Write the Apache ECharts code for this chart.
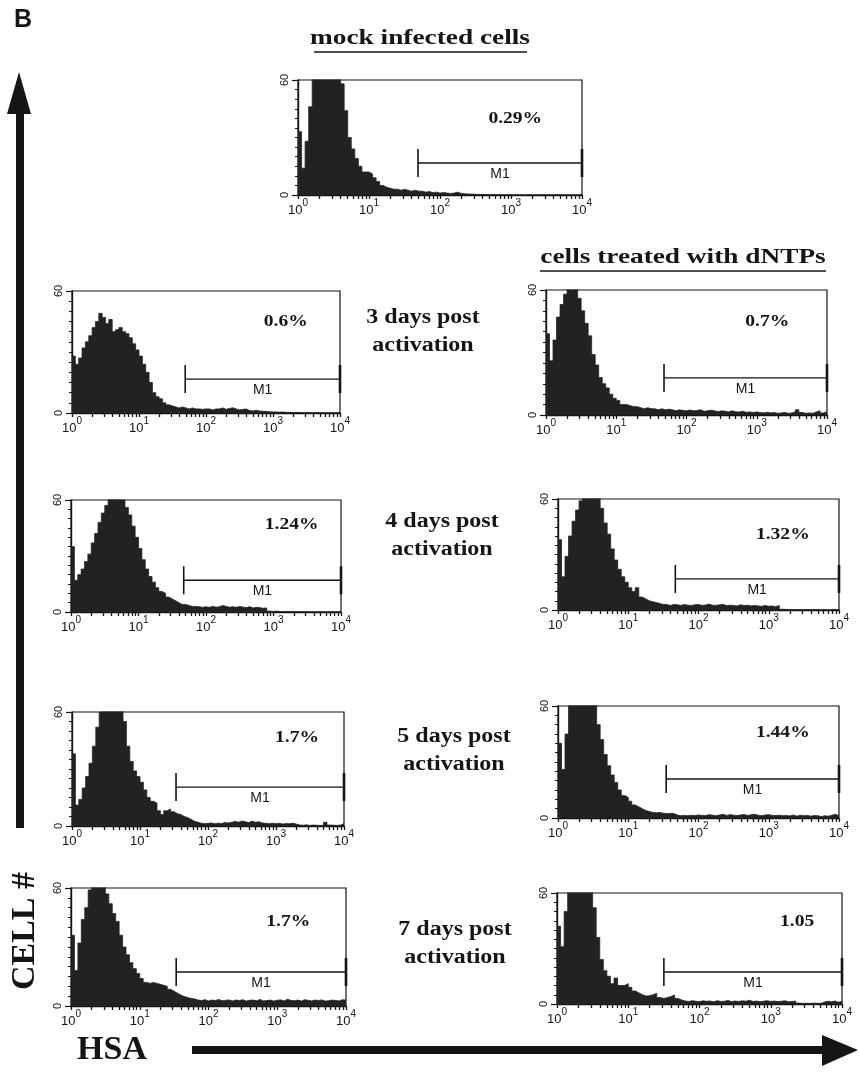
<!DOCTYPE html>
<html>
<head>
<meta charset="utf-8">
<script src="https://cdn.jsdelivr.net/npm/echarts@6/dist/echarts.min.js"></script>
<style>
html, body { margin: 0; padding: 0; background: #fff; }
#chart { width: 859px; height: 1074px; }
</style>
</head>
<body>
<div id="chart"></div>
<script>
// channels are 0.05 log10 units wide, 80 channels over 10^0 .. 10^4
var binWidth = 0.05;
var decades = [0, 1, 2, 3, 4];

var mock = [33,14,28,46,62,75,80,85,82,78,
  72,66,58,44,30,24,19,15,12,12,
  11,9,7,5,4,3.5,3,3,2.5,3,
  2.5,2,2.5,2,2,1.5,1.8,1.2,1.5,1,
  1.3,1,0.8,1,1.5,0.8,0.6,0.5,0.5,0.3,
  0.3,0.2,0.3,0.1,0.2,0.1,0.1,0,0.1,0,
  0,0.1,0,0,0.1,0,0,0,0.1,0,
  0,0,0.1,0,0,0,0,0,0.1,0.3];
var day3 = [28,24,27,32,35,38,42,45,49,47,
  44,46,40,41,42,40,39,37,34,31,
  28,24,20,15,10,8,7,5,4,3.5,
  3,2.5,3,2.5,2,2.5,2,2,1.8,2,
  2,1.5,2,2,2.5,1.8,2.2,2.6,2,1.5,
  1.8,2,1.2,1,1.3,1,0.8,0.8,0.6,0.5,
  0.5,0.4,0.5,0.3,0.3,0.2,0.3,0.2,0.1,0.2,
  0.1,0.1,0.2,0,0.1,0,0.1,0,0.1,0.3];
var day3dNTP = [39,26,36,47,53,58,62,60,61,56,
  50,44,38,29,24,18,15,13,10,8,
  7,5,5,4.5,4,4,3.5,3,3.5,3,
  3,2.5,3,2.5,2.8,2.5,2,2.5,2.2,2,
  2.4,2,2.2,2.5,1.8,2,2.3,2,1.6,2,
  1.8,1.5,2,1.6,1.4,1.8,1.3,1.5,1.2,1.5,
  1.2,1,1.3,1,1.2,0.8,1,1.2,0.8,1,
  1.5,2.5,1.2,0.8,1,0.8,1.5,2,1,1.5];
var day4 = [35,17,20,23,27,31,37,42,48,53,
  57,61,63,62,64,60,56,52,46,40,
  34,28,23,19,16,13,11,10,8,7,
  6,5,4,4,3.5,3,3,2.8,2.5,2.8,
  2.5,3,2.6,2.8,3.5,3,2.6,2.8,2.5,3,
  2.6,2.4,2.8,2.2,2.5,2.3,2,2.2,0.5,0.3,
  0.5,0.2,0.3,0.2,0.2,0.1,0.2,0.1,0.2,0.1,
  0,0.1,0,0.1,0,0,0.1,0,0.1,0.2];
var day4dNTP = [38,18,29,40,48,54,59,63,65,64,
  66,62,55,47,41,33,27,22,18,15,
  12,10,12,7,6,5,4.5,4,3.5,3,
  3,2.5,3,2.8,2.5,3,2.6,2.4,2.8,3,
  2.5,2.7,3.2,2.6,2.5,2.8,3,2.4,2.6,2.5,
  2.2,2.8,2.4,2.6,2.2,2.5,2.2,2,2.4,2,
  2.2,1.8,2.4,0.4,0.3,0.2,0.3,0.1,0.2,0.1,
  0.1,0.2,0,0.1,0,0.1,0,0.1,0.2,0.3];
var day5 = [38,11,14,20,26,33,42,52,60,64,
  66,63,65,61,62,55,42,34,29,26,
  23,19,15,13,12,8,6,8,9,7.5,
  6.5,6,5,4.5,3.5,2.5,2,1.5,1.2,1.4,
  1.6,1.2,1.5,1.3,1.8,1.6,2,2.4,2,2.6,
  2.2,1.8,2.5,2,2.2,1.6,1.4,1.2,1.5,1.2,
  1.4,1,1.3,1.2,1.4,1,0.5,0.4,0.6,0.3,
  0.5,0.4,0.3,0.4,2,0.5,0.4,0.3,0.5,1.2];
var day5dNTP = [40,26,45,62,70,75,78,76,72,70,
  66,50,42,34,28,23,19,15,12,11,
  9,7,6,5,4,3.5,3,2.8,3,2.6,
  2.3,2.5,2.4,1.6,1.2,1.4,1.2,1.5,1.3,1.6,
  1.4,1.3,1.8,1.5,1.2,1.6,2,1.4,1.8,1.5,
  1.3,1.6,1.9,1.4,1.7,2,1.5,1.2,1.6,1.8,
  1.4,1.3,1.5,1.2,1.4,1.1,1.6,1,1.5,1.2,
  1.4,1,1.3,1.2,0.8,1.2,1,1.5,2,1.2];
var day7 = [36,18,32,44,50,59,64,66,65,62,
  57,52,47,43,36,30,26,22,19,16.5,
  14,12,11.5,12,11.5,11,10.5,10,8.5,7.5,
  6.5,5.5,4.8,4.3,3.8,3.6,3,2.8,3.2,2.6,
  3,2.8,3.3,2.7,2.9,3.1,2.6,3,2.8,3.2,
  2.5,2.9,3,2.7,3.3,2.6,2.8,3,2.5,2.9,
  3.1,2.6,3.4,2.8,2.7,3,2.5,3.2,2.9,2.6,
  3,2.8,3.1,2.5,2.7,3,2.8,2.6,3.2,3];
var day7dNTP = [42,31,50,62,68,72,70,71,67,64,
  52,36,24,18,15,11,14,10,10,11,
  9,7,6,5,4.3,4.5,5,5.8,3.5,3,
  3.5,4,4.9,3,2.2,1.6,1.4,1.8,1.5,1.3,
  1.7,1.5,1.6,1.2,1.8,1.4,1.5,1.9,1.3,1.6,
  1.4,1.7,1.5,2,1.4,1.6,1.2,1.5,1.8,1.4,
  1.6,1.3,1.5,1.7,1.2,1.4,1.6,0.5,0.3,0.4,
  0.3,0.5,0.4,0.3,1,1.5,1.2,1.6,1,1.4];

var hists = [mock, day3, day3dNTP, day4, day4dNTP, day5, day5dNTP, day7, day7dNTP];
// M1 gate: start (log10) and drawn level (counts)
var m1Start = [1.69, 1.69, 1.68, 1.67, 1.67, 1.53, 1.54, 1.53, 1.50];
var m1Level = [16.7, 16.7, 17.8, 17, 16.8, 20.5, 20.9, 17.3, 17.3];
var pctText = ['0.29%', '0.6%', '0.7%', '1.24%', '1.32%', '1.7%', '1.44%', '1.7%', '1.05'];

// layout of each panel: plot box in px, percent label position in data units
var layout = [
  {left: 298, top: 80,  width: 284, height: 115, tx: 3.06, ty: 40},
  {left: 72,  top: 291, width: 268, height: 122, tx: 3.19, ty: 44.8},
  {left: 546, top: 290, width: 281, height: 125, tx: 3.15, ty: 44.6},
  {left: 71,  top: 500, width: 270, height: 112, tx: 3.27, ty: 46.6},
  {left: 558, top: 499, width: 281, height: 111, tx: 3.2,  ty: 40.5},
  {left: 72,  top: 712, width: 272, height: 114, tx: 3.31, ty: 46.3},
  {left: 558, top: 706, width: 281, height: 112, tx: 3.2,  ty: 45.5},
  {left: 71,  top: 888, width: 275, height: 118, tx: 3.16, ty: 42.7},
  {left: 557, top: 893, width: 285, height: 111, tx: 3.37, ty: 44.3}
];

var ink = '#151515';
var serif = '"Liberation Serif", "DejaVu Serif", serif';
var sans = '"Liberation Sans", Arial, sans-serif';

var tickVals = [];
decades.forEach(function (d) {
  tickVals.push(d);
  if (d < 4) {
    for (var k = 2; k <= 9; k++) tickVals.push(d + Math.log10(k));
  }
});

function toPoints(arr) {
  var pts = arr.map(function (v, k) { return [k * binWidth, v]; });
  pts.push([4, arr[arr.length - 1]]);
  return pts;
}

var grids = [], xAxes = [], yAxes = [], series = [];

layout.forEach(function (g, i) {
  grids.push({
    left: g.left, top: g.top, width: g.width, height: g.height,
    show: true, borderColor: ink, borderWidth: 1.2, backgroundColor: 'transparent'
  });
  xAxes.push({
    gridIndex: i, type: 'value', min: 0, max: 4,
    axisLine: {lineStyle: {color: ink, width: 1.4}},
    axisTick: {customValues: tickVals, length: 4, lineStyle: {color: ink, width: 1.3}},
    axisLabel: {
      customValues: decades, margin: 3, color: ink,
      formatter: function (v) { return '{n|10}{s|' + v + '}'; },
      rich: {
        n: {fontSize: 13, fontFamily: sans, color: ink, lineHeight: 19, verticalAlign: 'bottom'},
        s: {fontSize: 10, fontFamily: sans, color: ink, lineHeight: 19, verticalAlign: 'top'}
      }
    },
    splitLine: {show: false}
  });
  yAxes.push({
    gridIndex: i, type: 'value', min: 0, max: 60, interval: 60,
    axisLine: {show: true, lineStyle: {color: ink, width: 1.4}},
    axisTick: {show: true, length: 6, lineStyle: {color: ink, width: 1.2}},
    minorTick: {show: true, splitNumber: 12, length: 3, lineStyle: {color: ink, width: 1}},
    axisLabel: {rotate: 90, fontSize: 11, fontFamily: sans, color: ink, margin: 8},
    splitLine: {show: false}
  });
  series.push({
    type: 'line', xAxisIndex: i, yAxisIndex: i,
    step: 'end', symbol: 'none', clip: true,
    lineStyle: {color: '#222', width: 0.8},
    areaStyle: {color: '#222', opacity: 1},
    data: toPoints(hists[i])
  });
  series.push({
    type: 'custom', xAxisIndex: i, yAxisIndex: i, clip: false,
    data: [[m1Start[i], m1Level[i]]],
    renderItem: function (params, api) {
      var a = api.coord([api.value(0), api.value(1)]);
      var b = api.coord([4, api.value(1)]);
      var t = api.coord([g.tx, g.ty]);
      return {
        type: 'group',
        children: [
          {type: 'line', shape: {x1: a[0], y1: a[1], x2: b[0], y2: b[1]}, style: {stroke: ink, lineWidth: 1.3}},
          {type: 'line', shape: {x1: a[0], y1: a[1] - 14, x2: a[0], y2: a[1] + 14}, style: {stroke: ink, lineWidth: 1.6}},
          {type: 'line', shape: {x1: b[0], y1: a[1] - 14, x2: b[0], y2: a[1] + 14}, style: {stroke: ink, lineWidth: 2.6}},
          {type: 'text', x: (a[0] + b[0]) / 2, y: a[1] + 4,
            style: {text: 'M1', font: '14px ' + sans, fill: ink, align: 'center', verticalAlign: 'top'}},
          {type: 'text', x: t[0], y: t[1], scaleX: 1.15,
            style: {text: pctText[i], font: 'bold 17px ' + serif, fill: ink, align: 'center', verticalAlign: 'middle'}}
        ]
      };
    }
  });
});

function label(text, x, y, size, sx, extra) {
  var el = {
    type: 'text', x: x, y: y, scaleX: sx,
    style: {text: text, font: 'bold ' + size + 'px ' + serif, fill: ink, align: 'center', verticalAlign: 'middle', lineHeight: 28}
  };
  if (extra) for (var k in extra) el[k] = extra[k];
  return el;
}

var graphics = [
  {type: 'text', x: 14, y: 8, style: {text: 'B', font: 'bold 25px ' + sans, fill: ink}},
  label('mock infected cells', 420, 39, 21, 1.3),
  {type: 'line', shape: {x1: 314, y1: 52, x2: 527, y2: 52}, style: {stroke: ink, lineWidth: 1.5}},
  label('cells treated with dNTPs', 683, 258, 21, 1.3),
  {type: 'line', shape: {x1: 540, y1: 271, x2: 826, y2: 271}, style: {stroke: ink, lineWidth: 1.5}},
  label('3 days post\nactivation', 423, 332, 20, 1.2),
  label('4 days post\nactivation', 442, 536, 20, 1.2),
  label('5 days post\nactivation', 454, 751, 20, 1.2),
  label('7 days post\nactivation', 455, 944, 20, 1.2),
  // vertical arrow
  {type: 'rect', shape: {x: 16, y: 110, width: 8, height: 718}, style: {fill: ink}},
  {type: 'polygon', shape: {points: [[7, 114], [31, 114], [19, 72]]}, style: {fill: ink}},
  label('CELL #', 25, 931, 34, 1, {rotation: Math.PI / 2}),
  label('HSA', 112, 1050, 34, 1),
  // horizontal arrow
  {type: 'rect', shape: {x: 192, y: 1046, width: 633, height: 8}, style: {fill: ink}},
  {type: 'polygon', shape: {points: [[822, 1035], [822, 1066], [858, 1050]]}, style: {fill: ink}}
];

var chart = echarts.init(document.getElementById('chart'), null, {renderer: 'canvas'});
chart.setOption({
  backgroundColor: '#fff',
  animation: false,
  grid: grids,
  xAxis: xAxes,
  yAxis: yAxes,
  series: series,
  graphic: graphics
});
</script>
</body>
</html>
